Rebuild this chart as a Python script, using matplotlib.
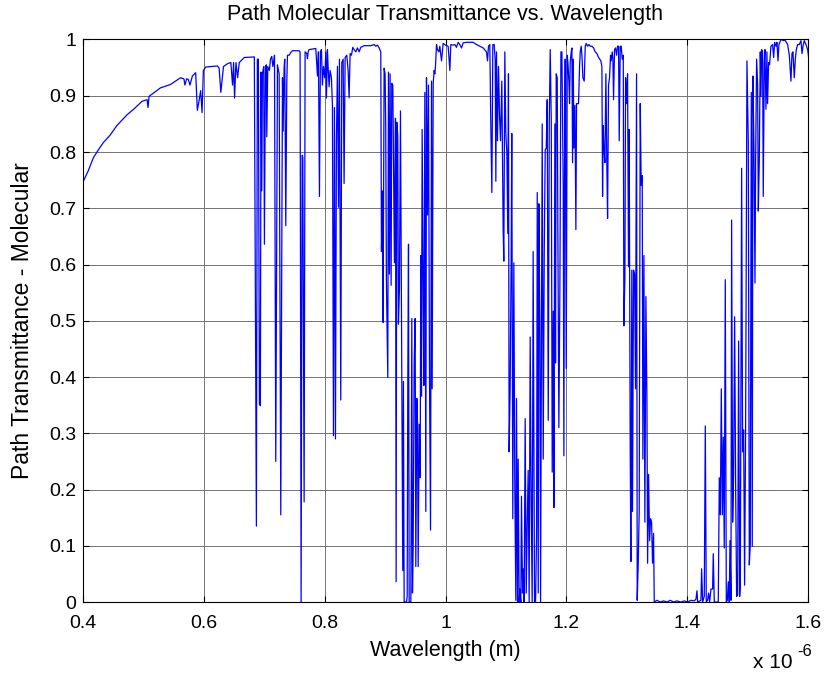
import matplotlib
matplotlib.use("Agg")
import matplotlib.pyplot as plt
from matplotlib.ticker import FixedLocator, FuncFormatter
import numpy as np

plt.rcParams['font.family'] = ['Liberation Sans', 'DejaVu Sans']

# Molecular path transmittance sampled across the visible / near-IR band
wavelength_um = [
    # 0.40 - 0.72 um : smooth rise, O2 gamma/B bands and first water lines
    0.4000, 0.4083, 0.4167, 0.4250, 0.4333, 0.4444, 0.4556, 0.4722, 0.4833, 0.4972,
    0.5056, 0.5072, 0.5089, 0.5278, 0.5444, 0.5611, 0.5667, 0.5683, 0.5711, 0.5739,
    0.5767, 0.5806, 0.5861, 0.5889, 0.5917, 0.5944, 0.5967, 0.5989, 0.6028, 0.6222,
    0.6250, 0.6278, 0.6322, 0.6389, 0.6444, 0.6472, 0.6489, 0.6506, 0.6528, 0.6556,
    0.6583, 0.6611, 0.6667, 0.6833, 0.6867, 0.6883, 0.6900, 0.6917, 0.6933, 0.6944,
    0.6956, 0.6967, 0.6989, 0.7000, 0.7017, 0.7033, 0.7039, 0.7056, 0.7083, 0.7100,
    0.7122, 0.7139, 0.7156, 0.7167,
    # 0.72 - 0.93 um : O2 A band and 0.82 / 0.93 um water bands
    0.7188, 0.7216, 0.7244, 0.7271, 0.7299, 0.7310, 0.7326, 0.7337, 0.7354, 0.7371,
    0.7382, 0.7409, 0.7437, 0.7464, 0.7575, 0.7591, 0.7608, 0.7625, 0.7636, 0.7658,
    0.7674, 0.7702, 0.7713, 0.7724, 0.7740, 0.7851, 0.7879, 0.7895, 0.7912, 0.7928,
    0.7945, 0.7961, 0.7978, 0.8000, 0.8017, 0.8028, 0.8044, 0.8055, 0.8072, 0.8088,
    0.8110, 0.8127, 0.8144, 0.8160, 0.8177, 0.8193, 0.8210, 0.8227, 0.8243, 0.8265,
    0.8282, 0.8304, 0.8320, 0.8337, 0.8364, 0.8387, 0.8403, 0.8420, 0.8442, 0.8464,
    0.8486, 0.8514, 0.8541, 0.8569, 0.8596, 0.8652, 0.8762, 0.8817, 0.8845, 0.8872,
    0.8900, 0.8928, 0.8939, 0.8956, 0.8966, 0.8983, 0.8999, 0.9010, 0.9021, 0.9044,
    0.9055, 0.9071, 0.9082, 0.9099, 0.9110, 0.9127, 0.9143, 0.9154, 0.9171, 0.9182,
    0.9193, 0.9209, 0.9220, 0.9237, 0.9254, 0.9276, 0.9292, 0.9303, 0.9314,
    # 0.93 - 1.145 um
    0.9315, 0.9354, 0.9365, 0.9376, 0.9387, 0.9398, 0.9426, 0.9442, 0.9453, 0.9464,
    0.9481, 0.9497, 0.9508, 0.9525, 0.9536, 0.9547, 0.9564, 0.9580, 0.9591, 0.9602,
    0.9613, 0.9630, 0.9641, 0.9658, 0.9674, 0.9685, 0.9702, 0.9718, 0.9735, 0.9752,
    0.9768, 0.9779, 0.9796, 0.9812, 0.9823, 0.9834, 0.9851, 0.9867, 0.9890, 0.9906,
    0.9934, 0.9961, 1.0000, 1.0044, 1.0072, 1.0088, 1.0127, 1.0155, 1.0182, 1.0210,
    1.0237, 1.0265, 1.0293, 1.0348, 1.0458, 1.0514, 1.0569, 1.0624, 1.0679, 1.0696,
    1.0712, 1.0734, 1.0751, 1.0768, 1.0784, 1.0806, 1.0823, 1.0834, 1.0845, 1.0861,
    1.0878, 1.0895, 1.0911, 1.0933, 1.0955, 1.0966, 1.0983, 1.0999, 1.1016, 1.1032,
    1.1043, 1.1054, 1.1071, 1.1087, 1.1098, 1.1115, 1.1132, 1.1148, 1.1165, 1.1176,
    1.1193, 1.1204, 1.1220, 1.1231, 1.1248, 1.1259, 1.1276, 1.1287, 1.1303, 1.1320,
    1.1337, 1.1353, 1.1370, 1.1386, 1.1403, 1.1419, 1.1436, 1.1452,
    # 1.145 - 1.40 um
    1.1475, 1.1492, 1.1509, 1.1520, 1.1536, 1.1547, 1.1564, 1.1575, 1.1586, 1.1602,
    1.1619, 1.1636, 1.1652, 1.1669, 1.1685, 1.1702, 1.1719, 1.1735, 1.1752, 1.1768,
    1.1785, 1.1796, 1.1812, 1.1823, 1.1834, 1.1851, 1.1862, 1.1878, 1.1895, 1.1912,
    1.1928, 1.1939, 1.1950, 1.1961, 1.1972, 1.1983, 1.2000, 1.2017, 1.2028, 1.2044,
    1.2055, 1.2066, 1.2083, 1.2094, 1.2105, 1.2116, 1.2127, 1.2144, 1.2160, 1.2171,
    1.2188, 1.2204, 1.2221, 1.2232, 1.2248, 1.2260, 1.2276, 1.2298, 1.2315, 1.2331,
    1.2353, 1.2375, 1.2398, 1.2425, 1.2453, 1.2480, 1.2508, 1.2536, 1.2574, 1.2591,
    1.2602, 1.2613, 1.2624, 1.2641, 1.2657, 1.2674, 1.2685, 1.2701, 1.2718, 1.2734,
    1.2745, 1.2762, 1.2773, 1.2784, 1.2800, 1.2817, 1.2834, 1.2850, 1.2867, 1.2878,
    1.2895, 1.2911, 1.2928, 1.2945, 1.2955, 1.2972, 1.2983, 1.2999, 1.3016, 1.3032,
    1.3043, 1.3060, 1.3071, 1.3087, 1.3098, 1.3115, 1.3132, 1.3148, 1.3165, 1.3176,
    1.3193, 1.3209, 1.3226, 1.3242, 1.3259, 1.3270, 1.3287, 1.3303, 1.3320, 1.3337,
    1.3348, 1.3364, 1.3381, 1.3397, 1.3414, 1.3430, 1.3447, 1.3458, 1.3502, 1.3557,
    1.3612, 1.3668, 1.3723, 1.3778, 1.3833, 1.3900, 1.3956, 1.4011, 1.4066, 1.4121,
    1.4149,
    # 1.41 - 1.60 um : recovery out of the 1.4 um water band
    1.4166, 1.4177, 1.4232, 1.4243, 1.4260, 1.4287, 1.4304, 1.4320, 1.4342, 1.4359,
    1.4376, 1.4398, 1.4425, 1.4436, 1.4453, 1.4519, 1.4536, 1.4553, 1.4569, 1.4586,
    1.4602, 1.4618, 1.4635, 1.4652, 1.4668, 1.4685, 1.4701, 1.4713, 1.4729, 1.4740,
    1.4757, 1.4773, 1.4790, 1.4807, 1.4823, 1.4840, 1.4856, 1.4873, 1.4884, 1.4906,
    1.4922, 1.4939, 1.4955, 1.4972, 1.4994, 1.5016, 1.5033, 1.5049, 1.5066, 1.5082,
    1.5093, 1.5110, 1.5127, 1.5138, 1.5154, 1.5171, 1.5182, 1.5198, 1.5215, 1.5226,
    1.5237, 1.5253, 1.5264, 1.5281, 1.5292, 1.5309, 1.5325, 1.5336, 1.5353, 1.5369,
    1.5391, 1.5419, 1.5436, 1.5453, 1.5475, 1.5491, 1.5508, 1.5524, 1.5558, 1.5602,
    1.5624, 1.5646, 1.5668, 1.5696, 1.5723, 1.5740, 1.5756, 1.5778, 1.5795, 1.5812,
    1.5834, 1.5861, 1.5889, 1.5906, 1.5922, 1.5944, 1.5972, 1.6000, 1.6015,
]

transmittance = [
    0.748, 0.767, 0.790, 0.804, 0.817, 0.830, 0.847, 0.866, 0.876, 0.890,
    0.893, 0.879, 0.899, 0.914, 0.920, 0.932, 0.930, 0.919, 0.930, 0.929,
    0.919, 0.935, 0.941, 0.874, 0.891, 0.909, 0.870, 0.945, 0.951, 0.953,
    0.949, 0.906, 0.952, 0.957, 0.959, 0.919, 0.959, 0.896, 0.959, 0.932,
    0.959, 0.962, 0.968, 0.969, 0.135, 0.965, 0.965, 0.352, 0.349, 0.942,
    0.731, 0.939, 0.952, 0.636, 0.952, 0.955, 0.827, 0.952, 0.945, 0.965,
    0.970, 0.952, 0.962, 0.972,
    0.250, 0.955, 0.939, 0.155, 0.932, 0.837, 0.949, 0.965, 0.669, 0.926,
    0.972, 0.972, 0.977, 0.980, 0.980, 0.978, 0.000, 0.794, 0.791, 0.178,
    0.978, 0.975, 0.966, 0.978, 0.982, 0.984, 0.935, 0.978, 0.721, 0.978,
    0.982, 0.919, 0.952, 0.932, 0.978, 0.896, 0.982, 0.952, 0.916, 0.945,
    0.932, 0.883, 0.296, 0.879, 0.290, 0.820, 0.952, 0.702, 0.965, 0.359,
    0.959, 0.965, 0.744, 0.968, 0.972, 0.945, 0.896, 0.975, 0.972, 0.986,
    0.982, 0.978, 0.985, 0.978, 0.986, 0.989, 0.989, 0.991, 0.988, 0.990,
    0.985, 0.978, 0.623, 0.731, 0.497, 0.949, 0.939, 0.843, 0.570, 0.399,
    0.942, 0.583, 0.939, 0.563, 0.922, 0.919, 0.721, 0.603, 0.860, 0.036,
    0.853, 0.830, 0.494, 0.557, 0.873, 0.392, 0.056, 0.392, 0.023,
    0.000, 0.000, 0.010, 0.405, 0.636, 0.000, 0.000, 0.504, 0.016, 0.096,
    0.425, 0.504, 0.063, 0.362, 0.320, 0.063, 0.316, 0.221, 0.616, 0.366,
    0.840, 0.543, 0.385, 0.906, 0.161, 0.932, 0.688, 0.919, 0.395, 0.128,
    0.926, 0.379, 0.922, 0.945, 0.939, 0.952, 0.991, 0.982, 0.978, 0.988,
    0.962, 0.993, 0.990, 0.988, 0.945, 0.991, 0.990, 0.991, 0.986, 0.995,
    0.991, 0.985, 0.994, 0.995, 0.995, 0.991, 0.988, 0.985, 0.978, 0.962,
    0.988, 0.991, 0.847, 0.728, 0.991, 0.991, 0.965, 0.748, 0.978, 0.820,
    0.952, 0.866, 0.820, 0.926, 0.662, 0.606, 0.978, 0.833, 0.800, 0.655,
    0.939, 0.267, 0.379, 0.603, 0.833, 0.148, 0.603, 0.208, 0.003, 0.362,
    0.000, 0.254, 0.000, 0.023, 0.000, 0.188, 0.016, 0.059, 0.000, 0.326,
    0.016, 0.135, 0.234, 0.000, 0.471, 0.188, 0.000, 0.623,
    0.000, 0.000, 0.122, 0.728, 0.016, 0.708, 0.491, 0.000, 0.359, 0.850,
    0.254, 0.623, 0.804, 0.807, 0.893, 0.323, 0.853, 0.982, 0.856, 0.231,
    0.517, 0.168, 0.850, 0.425, 0.939, 0.932, 0.649, 0.310, 0.557, 0.978,
    0.978, 0.860, 0.741, 0.260, 0.787, 0.965, 0.415, 0.972, 0.959, 0.926,
    0.886, 0.959, 0.978, 0.985, 0.781, 0.965, 0.807, 0.883, 0.662, 0.886,
    0.886, 0.886, 0.952, 0.978, 0.988, 0.972, 0.932, 0.926, 0.988, 0.993,
    0.988, 0.991, 0.988, 0.988, 0.985, 0.978, 0.975, 0.968, 0.962, 0.952,
    0.721, 0.847, 0.807, 0.781, 0.939, 0.767, 0.682, 0.919, 0.932, 0.972,
    0.962, 0.978, 0.965, 0.893, 0.982, 0.985, 0.972, 0.988, 0.988, 0.820,
    0.988, 0.988, 0.965, 0.972, 0.491, 0.577, 0.932, 0.886, 0.939, 0.596,
    0.840, 0.273, 0.072, 0.590, 0.161, 0.590, 0.583, 0.379, 0.939, 0.003,
    0.069, 0.161, 0.886, 0.741, 0.758, 0.254, 0.616, 0.142, 0.543, 0.359,
    0.069, 0.227, 0.109, 0.148, 0.142, 0.069, 0.122, 0.000, 0.003, 0.000,
    0.002, 0.000, 0.003, 0.000, 0.002, 0.000, 0.002, 0.000, 0.003, 0.002,
    0.005,
    0.020, 0.000, 0.003, 0.059, 0.000, 0.010, 0.313, 0.000, 0.003, 0.016,
    0.000, 0.023, 0.023, 0.086, 0.000, 0.000, 0.221, 0.155, 0.379, 0.155,
    0.293, 0.096, 0.573, 0.000, 0.003, 0.036, 0.000, 0.109, 0.003, 0.679,
    0.142, 0.227, 0.507, 0.201, 0.010, 0.013, 0.464, 0.010, 0.030, 0.771,
    0.267, 0.306, 0.030, 0.306, 0.962, 0.820, 0.066, 0.102, 0.906, 0.099,
    0.935, 0.807, 0.567, 0.787, 0.965, 0.919, 0.695, 0.781, 0.978, 0.899,
    0.982, 0.978, 0.721, 0.959, 0.982, 0.876, 0.978, 0.886, 0.959, 0.955,
    0.988, 0.991, 0.968, 0.995, 0.988, 0.995, 0.962, 0.991, 1.000, 0.998,
    0.999, 0.995, 0.991, 0.972, 0.926, 0.975, 0.978, 0.932, 0.965, 0.982,
    0.991, 0.991, 0.998, 0.975, 0.988, 0.998, 0.991, 0.982, 0.969,
]

x_ticks_um = [0.4, 0.6, 0.8, 1.0, 1.2, 1.4, 1.6]
x_tick_labels = ['0.4', '0.6', '0.8', '1', '1.2', '1.4', '1.6']
y_ticks = [0, 0.1, 0.2, 0.3, 0.4, 0.5, 0.6, 0.7, 0.8, 0.9, 1]
y_tick_labels = ['0', '0.1', '0.2', '0.3', '0.4', '0.5', '0.6', '0.7', '0.8', '0.9', '1']

wavelength_m = np.array(wavelength_um) * 1e-6

fig = plt.figure(figsize=(8.25, 6.74), dpi=100)
ax = fig.add_axes([0.1010, 0.1068, 0.8780, 0.8346])

ax.plot(wavelength_m, transmittance, color=(0, 0, 1), linewidth=0.9)

ax.set_xlim(0.4e-6, 1.6e-6)
ax.set_ylim(0, 1)
ax.xaxis.set_major_locator(FixedLocator([v * 1e-6 for v in x_ticks_um]))
ax.xaxis.set_major_formatter(FuncFormatter(
    lambda v, pos: x_tick_labels[pos] if pos is not None and pos < len(x_tick_labels) else ''))
ax.set_yticks(y_ticks)
ax.set_yticklabels(y_tick_labels)

ax.grid(True, color=(0.45, 0.45, 0.45), linewidth=0.7, linestyle='-')
ax.set_axisbelow(True)
ax.tick_params(direction='in', length=4, width=0.8, top=True, right=True,
               labelsize=14, colors='black')
ax.tick_params(axis='x', pad=9)
ax.tick_params(axis='y', pad=5)
for s in ax.spines.values():
    s.set_color('black')
    s.set_linewidth(0.8)

ax.set_title('Path Molecular Transmittance vs. Wavelength', fontsize=15.5,
             y=1.0445, va='center', pad=0)
ax.set_xlabel('Wavelength (m)', fontsize=15.5)
ax.xaxis.set_label_coords(0.5, -0.0854)
ax.xaxis.label.set_va('center')
ax.set_ylabel('Path Transmittance - Molecular', fontsize=16.5)
ax.yaxis.set_label_coords(-0.0846, 0.5)
ax.yaxis.label.set_va('center')

# Exponent for the wavelength axis, drawn MATLAB-style below the last tick
fig.text(753 / 825, 1 - 668 / 674, 'x 10', fontsize=15, ha='left', va='baseline')
fig.text(797 / 825, 1 - 656 / 674, '-6', fontsize=12, ha='left', va='baseline')

fig.savefig('out.png', dpi=100)
